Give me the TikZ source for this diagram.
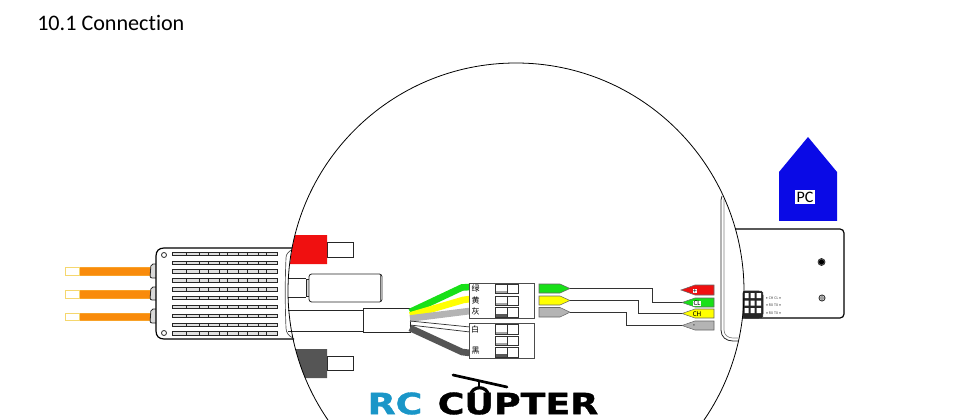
\documentclass[tikz,border=0pt]{standalone}
\usepackage{fontspec}
\setmainfont{Carlito}[Ligatures=NoCommon]
\newfontfamily\cjkfont{Noto Sans CJK SC}
\newfontfamily\logofont{DejaVu Sans}[BoldFeatures={FakeBold=1.2}]
\definecolor{wiregreen}{HTML}{18E018}
\definecolor{wireyellow}{HTML}{FFFF00}
\definecolor{wiregrey}{HTML}{B4B4B4}
\definecolor{wiredark}{HTML}{555555}
\definecolor{plugred}{HTML}{F01010}
\definecolor{wireorange}{HTML}{F98B0B}
\definecolor{tipyellow}{HTML}{F5D76E}
\definecolor{pcblue}{HTML}{0A0AE6}
\definecolor{logoblue}{HTML}{1A96C8}
\usetikzlibrary{shapes,arrows}

\begin{document}
\begin{tikzpicture}[x=0.75pt,y=0.75pt,yscale=-1,xscale=1,
  outline/.style={draw=black!85,line width=0.6pt},
  thinwire/.style={draw=black!80,line width=0.55pt},
  thickwire/.style={line width=5pt},
  slot/.style={draw=black!85,fill=black!12,line width=0.55pt},
  slottick/.style={draw=black!85,line width=0.5pt,dash pattern={on 2.7pt off 3.94pt}},
  orangewire/.style={fill=wireorange,draw=wireorange!70!tipyellow,line width=0.4pt},
  wiretip/.style={fill=white,draw=tipyellow,line width=0.6pt},
  socket/.style={draw=black!80,fill=white,line width=0.6pt},
  tagbox/.style={draw=black!60,line width=0.4pt},
  cjklabel/.style={inner sep=0pt,font=\cjkfont\fontsize{6}{7}\selectfont},
  taglabel/.style={inner sep=0.3pt,font=\fontsize{5.5}{6}\selectfont},
  pinlabel/.style={inner sep=0pt,text=black!70,font=\fontsize{3}{4}\selectfont},
  logotext/.style={inner sep=0pt,xscale=1.24,font=\logofont\bfseries\fontsize{22}{24}\selectfont}]
\useasboundingbox (0,0) rectangle (966,420);
\clip (0,0) rectangle (966,420);

% Text Node
\draw (37,23) node (title) [anchor=west][inner sep=0pt] [font=\fontsize{16.6}{18}\selectfont] {10.1 Connection};

%Orange motor wires
\draw [orangewire] (79,267) rectangle (150,275);
\draw [orangewire] (79,290) rectangle (150,298);
\draw [orangewire] (79,313) rectangle (150,320);
\draw [wiretip] (65,267) rectangle (79,275);
\draw [wiretip] (65,290) rectangle (79,298);
\draw [wiretip] (65,313) rectangle (79,320);
%Wire caps
\draw [outline,fill=black!15,rounded corners=1.5pt] (156,264) -- (151,264) -- (150,278) -- (156,278);
\draw [outline,fill=black!15,rounded corners=1.5pt] (156,287) -- (151,287) -- (150,300) -- (156,300);
\draw [outline,fill=black!15,rounded corners=1.5pt] (156,309) -- (151,309) -- (150,323) -- (156,323);

%Shape: ESC body
\draw [draw=black,line width=0.9pt,fill=white] (293,248) -- (164,248) .. controls (159,248) and (156,251) .. (156,256) -- (156,331) .. controls (156,336) and (159,339) .. (164,339) -- (294,339);
\draw [draw=black!70,line width=0.5pt] (293,249) .. controls (288,252) and (286,254) .. (286,258) .. controls (285,280) and (285,305) .. (286,328) .. controls (286,333) and (289,336) .. (293,338);
%Screw holes
\draw [outline] (164,255) circle (2.5);
\draw [outline] (164,333) circle (2.5);
%Slots
\draw [slot] (172,252) rectangle (277,255.5);
\draw [slot] (172,261) rectangle (277,264.5);
\draw [slot] (172,269.7) rectangle (277,273.2);
\draw [slot] (172,278.6) rectangle (277,282.1);
\draw [slot] (172,287.4) rectangle (277,290.9);
\draw [slot] (172,296.3) rectangle (277,299.8);
\draw [slot] (172,305.2) rectangle (277,308.7);
\draw [slot] (172,314) rectangle (277,317.5);
\draw [slot] (172,322.9) rectangle (277,326.4);
\draw [slot] (172,331.7) rectangle (277,335.2);
%Slot ticks
\draw [slottick] (186,252) -- (186,336);
\draw [slottick] (199,252) -- (199,336);
\draw [slottick] (208,252) -- (208,336);
\draw [slottick] (219,252) -- (219,336);
\draw [slottick] (227,252) -- (227,336);
\draw [slottick] (238,252) -- (238,336);
\draw [slottick] (247,252) -- (247,336);
\draw [slottick] (258,252) -- (258,336);
\draw [slottick] (266,252) -- (266,336);

%Red plug
\draw [outline,fill=white] (327,242) rectangle (353,257);
\draw [fill=plugred,draw=none] (295,235) -- (327,235) -- (327,264) -- (290,264) .. controls (291,254) and (293,244) .. (295,235) -- cycle;
%Dark plug
\draw [outline,fill=white] (327,356) rectangle (353,370);
\draw [fill=wiredark,draw=none] (295.5,349) -- (327,349) -- (327,378) -- (305,378) .. controls (301,368) and (298,358) .. (295.5,349) -- cycle;

%Capacitor
\draw [outline] (288,278) -- (306,278);
\draw [outline] (288,297) -- (306,297);
\draw [outline,fill=black!15] (306,279) rectangle (309,296);
\draw [outline,fill=white,rounded corners=2pt] (309,274) rectangle (382,302);
\draw [draw=black!60,line width=0.5pt] (380,275) -- (380,301);

% Main cable
\coordinate (cabletop) at (288,310.5);
\coordinate (cablebot) at (288,331);

% Text Node
\draw (386.5,320) node (joint) [outline,fill=white,minimum width=35.25pt,minimum height=18pt,inner sep=0pt] {};
\draw [outline] (cabletop) -- (cabletop -| joint.west);
\draw [outline] (cablebot) -- (cablebot -| joint.west);

%Branch wires
\coordinate (greenstart) at (410,312);
\coordinate (yellowstart) at (410,315.5);
\coordinate (greystart) at (410,318.5);
\coordinate (whitestartA) at (410,321);
\coordinate (whitestartB) at (410,325);
\coordinate (darkstart) at (410,328);
\coordinate (greenend) at (470,287);
\coordinate (yellowend) at (470,299);
\coordinate (greyend) at (470,311);
\coordinate (whiteendA) at (470,327);
\coordinate (whiteendB) at (470,332);
\coordinate (darkend) at (470,353);
\draw [thickwire,draw=wiregreen] (greenstart) -- (462,287.5) -- (greenend);
\draw [thickwire,draw=wireyellow] (yellowstart) -- (463,300) -- (yellowend);
\draw [thickwire,draw=wiregrey] (greystart) -- (greyend);
\draw [thinwire] (whitestartA) -- (whiteendA);
\draw [thinwire] (whitestartB) -- (whiteendB);
\draw [thickwire,draw=wiredark] (darkstart) -- (462,352) -- (darkend);

%Flowchart: Process
\draw (501.5,300.5) node (plugtop) [draw=black!70,fill=white,line width=0.6pt,minimum width=48.75pt,minimum height=26.25pt,inner sep=0pt] {};
\draw (501.5,340.5) node (plugbot) [draw=black!70,fill=white,line width=0.6pt,minimum width=48.75pt,minimum height=26.25pt,inner sep=0pt] {};
%Sockets
\draw [socket] (495,284) rectangle (518,293) (507,284) -- (507,293);
\draw [socket] (495,296) rectangle (518,305) (507,296) -- (507,305);
\draw [socket] (495,307.5) rectangle (518,317) (507,307.5) -- (507,317);
\draw [socket] (495,324) rectangle (518,334) (507,324) -- (507,334);
\draw [socket] (495,336) rectangle (518,345) (507,336) -- (507,345);
\draw [socket] (495,347.5) rectangle (518,357) (507,347.5) -- (507,357);
\fill [black!35] (496,290.5) rectangle (506.5,292.5);
\fill [black!35] (496,302.5) rectangle (506.5,304.5);
\fill [black!65] (496,314) rectangle (506.5,316.5);
\fill [black!35] (496,331.5) rectangle (506.5,333.5);
\fill [black!35] (496,342.5) rectangle (506.5,344.5);
\fill [black!65] (496,354) rectangle (506.5,356.5);
% Text Node
\draw (475.5,288.5) node (lblgreen) [cjklabel] {绿};
\draw (475.5,300.5) node (lblyellow) [cjklabel] {黄};
\draw (475.5,311.5) node (lblgrey) [cjklabel] {灰};
\draw (475,329.5) node (lblwhite) [cjklabel] {白};
\draw (475.5,351) node (lblblack) [cjklabel] {黑};

%Left tags
\draw [tagbox,fill=wiregreen] (539,284) -- (560,284) -- (570,288.5) -- (560,293) -- (539,293) -- cycle;
\draw [tagbox,fill=wireyellow] (539,296) -- (560,296) -- (570,300.5) -- (560,305) -- (539,305) -- cycle;
\draw [tagbox,fill=wiregrey] (539,307.5) -- (560,307.5) -- (570,312.2) -- (560,317) -- (539,317) -- cycle;
%Right tags
\draw [tagbox,fill=plugred] (714,285) -- (695,285) -- (681,290) -- (695,295) -- (714,295) -- cycle;
\draw [tagbox,fill=wiregreen] (714,298) -- (695,298) -- (682,302.5) -- (695,307) -- (714,307) -- cycle;
\draw [tagbox,fill=wireyellow] (714,309) -- (695,309) -- (682,313.5) -- (695,318) -- (714,318) -- cycle;
\draw [tagbox,fill=wiregrey] (714,321) -- (695,321) -- (682,325.5) -- (695,330) -- (714,330) -- cycle;
% Text Node
\draw (695,291) node (tagplus) [taglabel,fill=white] {+};
\draw (697,303.5) node (tagcl) [taglabel,fill=white] {CL};
\draw (697,314.5) node (tagch) [taglabel] {CH};
\draw (694,326) node (tagminus) [taglabel] {-};

%Signal wires
\coordinate (greentip) at (570,288.5);
\coordinate (yellowtip) at (570,300.5);
\coordinate (greytip) at (570,312.2);
\coordinate (clend) at (682,302.5);
\coordinate (chend) at (682,313.5);
\coordinate (minusend) at (682,325.5);
\draw [thinwire] (greentip) -- +(82,0) |- (clend);
\draw [thinwire] (yellowtip) -- +(68,0) |- (chend);
\draw [thinwire] (greytip) -- +(56,0) |- (minusend);

%Shape: board
\draw [draw=black,line width=0.9pt,fill=white,rounded corners=3pt] (735,229) -- (844,229) -- (844,318) -- (742,318);
\draw [draw=black!85,fill=black!50,line width=0.5pt] (821.5,262) circle (3.5);
\draw [fill=black,draw=none] (821.5,262) circle (2.6);
\draw [draw=black!80,line width=0.7pt] (822,298) circle (3);
\draw [draw=black!50,line width=0.6pt] (822,298) circle (1.5);
%Shape: plate
\draw [draw=black!85,line width=0.6pt] (722,196) -- (721,200) -- (721,330) .. controls (721,337) and (726,341) .. (733,341) -- (738,341);
\draw [draw=black!50,line width=0.5pt] (724,199) -- (724,330) .. controls (724,335) and (728,338) .. (733,338) -- (738,338);

%Pin block
\draw [fill=black!85,draw=black!85,rounded corners=1.5pt] (743,291) -- (761,291) -- (763,293) -- (763,316) -- (761,318) -- (743,318) -- cycle;
\fill [white] (744.5,293) rectangle (748.5,298) (750.5,293) rectangle (754.5,298) (756.5,293) rectangle (761,298);
\fill [white] (744.5,300.5) rectangle (748.5,305.5) (750.5,300.5) rectangle (754.5,305.5) (756.5,300.5) rectangle (761,305.5);
\fill [white] (744.5,308) rectangle (748.5,313) (750.5,308) rectangle (754.5,313) (756.5,308) rectangle (761,313);
% Text Node
\draw (773.5,298) node (pinch) [pinlabel] {• CH CL •};
\draw (773.5,305.5) node (pinrx) [pinlabel] {• RX TX •};
\draw (773.5,313) node (pinrxb) [pinlabel] {• RX TX •};

%Shape: Circle
\draw [draw=black,line width=0.6pt] (516,291) circle (228);

%Shape: PC house
\draw [fill=pcblue,draw=none] (779,172) -- (808,137) -- (837,172) -- (837,221) -- (779,221) -- cycle;
% Text Node
\draw (805,197) node (pclabel) [fill=white,inner sep=1pt,font=\fontsize{12}{13}\selectfont] {PC};

% Text Node
\draw (395,403.5) node (logorc) [logotext,text=logoblue] {RC};
\draw (518,403.5) node (logocopter) [logotext] {CUPTER};
%Rotor
\draw [line width=2pt,line cap=round] (453,375) -- (507,387);
\draw [line width=1.5pt] (479,380) -- (479,388);
\draw [line width=2.4pt] (470.5,396) .. controls (471,385) and (488,385) .. (488.5,396);

\end{tikzpicture}
\end{document}
